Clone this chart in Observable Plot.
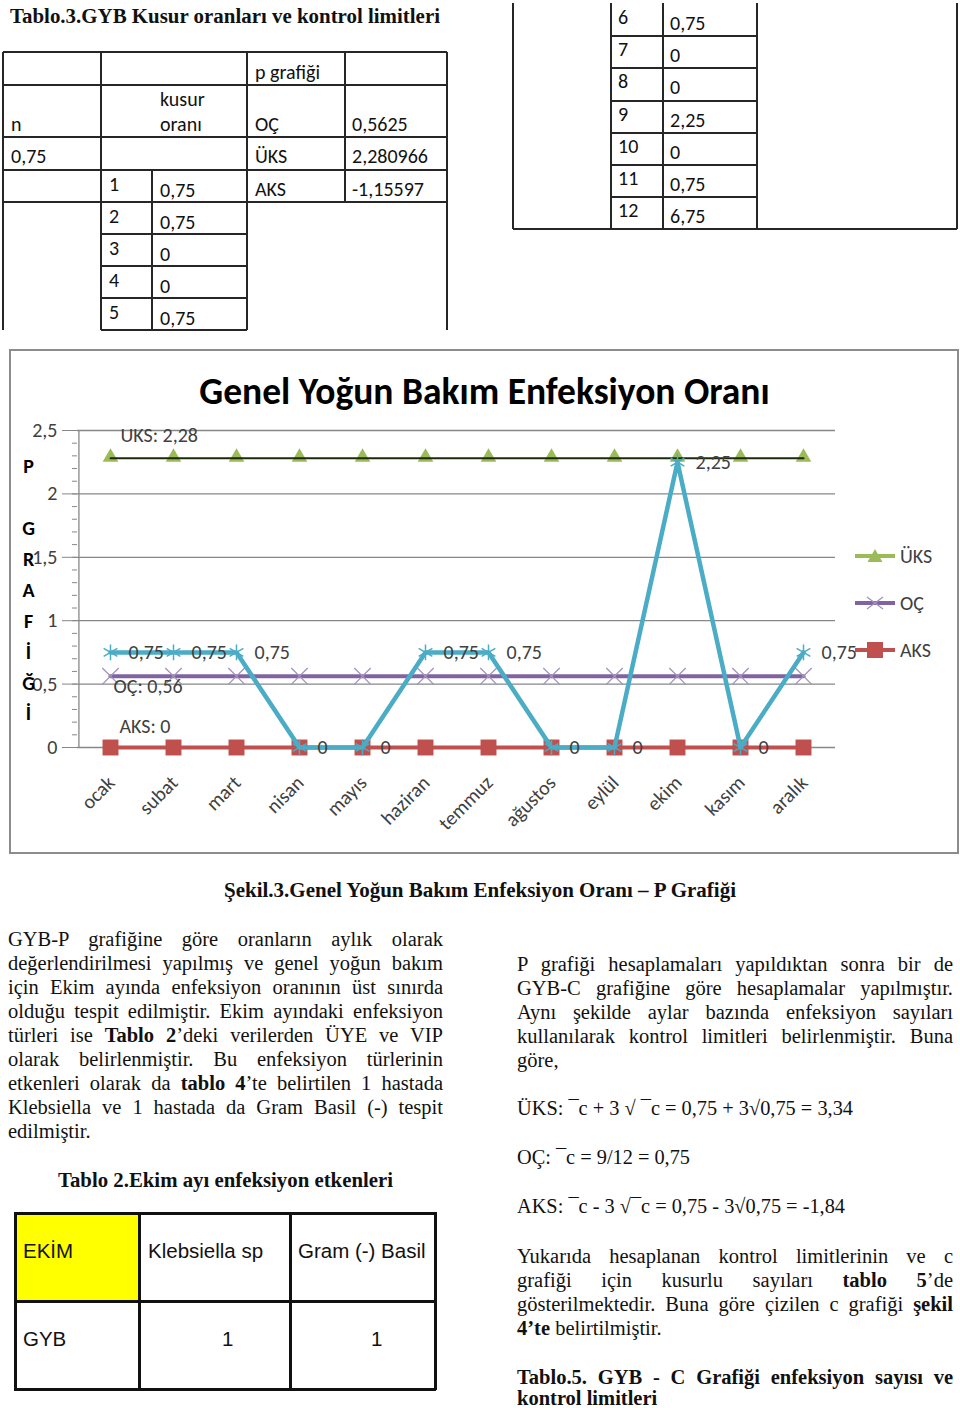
<!DOCTYPE html>
<html><head><meta charset="utf-8">
<script src="https://cdn.jsdelivr.net/npm/d3@7"></script>
<script src="https://cdn.jsdelivr.net/npm/@observablehq/plot@0.6"></script>
<style>
html,body{margin:0;padding:0;background:#fff;}
#page{position:relative;width:960px;height:1408px;overflow:hidden;background:#fff;}
.ln{position:absolute;}
.tt{position:absolute;font-family:Carlito,Calibri,Lato,sans-serif;font-size:20px;color:#111;white-space:nowrap;}
.sv{position:absolute;font-family:"Liberation Serif","Times New Roman",serif;font-size:20.5px;color:#111;white-space:nowrap;}
.ar{position:absolute;font-family:"Liberation Sans",Arial,sans-serif;font-size:20.5px;color:#111;white-space:nowrap;}
.lg{position:absolute;font-family:Carlito,Calibri,Lato,sans-serif;font-size:20px;color:#404040;white-space:nowrap;}
</style></head>
<body><div id="page"></div>
<script>
// ---------------- data ----------------
const months = ["ocak","subat","mart","nisan","mayıs","haziran","temmuz","ağustos","eylül","ekim","kasım","aralık"];
const kusurOrani = [0.75,0.75,0.75,0,0,0.75,0.75,0,0,2.25,0,0.75];
const uksSeries = [2.280966,2.280966,2.280966,2.280966,2.280966,2.280966,2.280966,2.280966,2.280966,2.280966,2.280966,2.280966];
const ocSeries = [0.5625,0.5625,0.5625,0.5625,0.5625,0.5625,0.5625,0.5625,0.5625,0.5625,0.5625,0.5625];
const aksSeries = [0,0,0,0,0,0,0,0,0,0,0,0];
const yTicks = [0,0.5,1,1.5,2,2.5];
const chartTitle = "Genel Yoğun Bakım Enfeksiyon Oranı";
const yLabel = "P\n \nG\nR\nA\nF\nİ\nĞ\nİ";
const legendNames = ["ÜKS","OÇ","AKS"];

const tabloN = ["1","2","3","4","5","6","7","8","9","10","11","12"];
const tabloKusur = ["0,75","0,75","0","0","0,75","0,75","0","0","2,25","0","0,75","6,75"];
const limitNames = ["OÇ","ÜKS","AKS"];
const limitValues = ["0,5625","2,280966","-1,15597"];
const nValue = "0,75";

// ---------------- helpers ----------------
const page = document.getElementById("page");
function el(cls, style, html){ const e=document.createElement("div"); e.className=cls; Object.assign(e.style, style); if(html!=null) e.innerHTML=html; page.appendChild(e); return e; }
const C = "#262626";
function hline(x1,x2,y,w=2,c=C){ el("ln",{left:x1+"px",top:(y-w/2)+"px",width:(x2-x1)+"px",height:w+"px",background:c}); }
function vline(x,y1,y2,w=2,c=C){ el("ln",{left:(x-w/2)+"px",top:y1+"px",width:w+"px",height:(y2-y1)+"px",background:c}); }
function txt(x,yc,html,cls="tt",lh=22){ return el(cls,{left:x+"px",top:(yc-lh/2)+"px",lineHeight:lh+"px",display:"inline-block"},html); }
function fitW(e,w){ const nat=e.getBoundingClientRect().width; e.style.transformOrigin="0 50%"; e.style.transform=`scaleX(${w/nat})`; }
function justify(e,w){ const nat=e.getBoundingClientRect().width; const n=(e.textContent.match(/ /g)||[]).length; if(n) e.style.wordSpacing=((w-nat)/n)+"px"; }

// ---------------- top title ----------------
fitW(txt(10,16,"<b>Tablo.3.GYB Kusur oranları ve kontrol limitleri</b>","sv",24),430);

// ---------------- table 3 (left part) ----------------
[52,85,137,170,202].forEach(y=>hline(3,447,y));
[234,266,298,330].forEach(y=>hline(101,247,y));
vline(3,52,330); vline(101,52,330); vline(152,170,330); vline(247,52,330); vline(345,52,202); vline(447,52,330);
txt(255,72,"p grafiği"); txt(160,99,"kusur"); txt(160,124,"oranı"); txt(11,124,"n"); txt(11,156,nValue);
limitNames.forEach((n,i)=>{ const y=[124,156,189][i]; txt(255,y,n); txt(352,y,limitValues[i]); });
for(let i=0;i<5;i++){ const top=170+i*32; txt(109,top+13.5,tabloN[i]); txt(160,top+19.5,tabloKusur[i]); }
// ---------------- table 3 (right part) ----------------
[513,611,663,757,957].forEach(x=>vline(x,3,229));
hline(513,957,229);
for(let k=1;k<7;k++) hline(611,757,4+k*32.2);
for(let i=5;i<12;i++){ const top=4+(i-5)*32.2; txt(618,top+13,tabloN[i]); txt(670,top+19,tabloKusur[i]); }

// ---------------- chart ----------------
const fmt = d => d3.format("~g")(d).replace(".", ",");
const fmt2 = d => d3.format(".2~f")(d).replace(".", ",");
const rows = months.map((m,i)=>({month:m, p:kusurOrani[i], uks:uksSeries[i], oc:ocSeries[i], aks:aksSeries[i]}));
const W=948, H=503, mL=67, mR=123, mT=80, mB=106;
const step=(W-mL-mR)/months.length;
const minorTicks = d3.range(0,26).map(i=>i/10);
const LF = 20;
const chart = Plot.plot({
  width:W, height:H, marginLeft:mL, marginRight:mR, marginTop:mT, marginBottom:mB,
  style:{fontFamily:"Carlito, Calibri, Lato, sans-serif", background:"transparent", overflow:"visible", color:"#404040"},
  x:{type:"point", domain:months, padding:0.5, axis:null},
  y:{domain:[0,2.5], axis:null},
  marks:[
    Plot.gridY(yTicks,{stroke:"#878787", strokeOpacity:1, strokeWidth:1.3}),
    Plot.axisY(minorTicks,{tickSize:5, tickFormat:()=>"", stroke:"#878787", label:null}),
    Plot.axisY(yTicks,{tickSize:15, tickPadding:5, tickFormat:fmt, stroke:"#878787", color:"#404040", fontSize:LF, label:null}),
    Plot.ruleX([months[0]],{dx:-step/2, y1:0, y2:2.5, stroke:"#878787", strokeWidth:1.3}),
    Plot.dot(rows,{x:"month", y:"uks", symbol:"triangle", r:5.8, dy:-1, fill:"#9BBB59"}),
    Plot.line(rows,{x:"month", y:"uks", stroke:"#1c2a0c", strokeWidth:2}),
    Plot.line(rows,{x:"month", y:"oc", stroke:"#8064A2", strokeWidth:4}),
    Plot.dot(rows,{x:"month", y:"oc", symbol:"times", r:7.5, stroke:"#A392BA", strokeWidth:1.3}),
    Plot.line(rows,{x:"month", y:"aks", stroke:"#C0504D", strokeWidth:4}),
    Plot.dot(rows,{x:"month", y:"aks", symbol:"square", r:9, fill:"#C0504D"}),
    Plot.line(rows,{x:"month", y:"p", stroke:"#4BACC6", strokeWidth:4.5, strokeLinejoin:"round"}),
    Plot.dot(rows,{x:"month", y:"p", symbol:"asterisk", r:7.5, stroke:"#4BACC6", strokeWidth:1.5}),
    Plot.text(rows,{x:"month", y:"p", text:d=>fmt(d.p), textAnchor:"start", dx:18, fontSize:LF, fill:"#404040"}),
    Plot.text([rows[0]],{x:"month", y:"uks", text:d=>"UKS: "+fmt2(d.uks), textAnchor:"start", dx:10, dy:-23, fontSize:LF, fill:"#404040"}),
    Plot.text([rows[0]],{x:"month", y:"oc", text:d=>"OÇ: "+fmt2(d.oc), textAnchor:"start", dx:3, dy:10, fontSize:LF, fill:"#404040"}),
    Plot.text([rows[0]],{x:"month", y:"aks", text:d=>"AKS: "+fmt2(d.aks), textAnchor:"start", dx:9, dy:-21, fontSize:LF, fill:"#404040"}),
    Plot.text(months,{x:d=>d, text:d=>d, frameAnchor:"bottom", lineAnchor:"middle", rotate:-45, textAnchor:"end", dx:1, dy:32, fontSize:LF, fill:"#404040"}),
    Plot.text([chartTitle],{frameAnchor:"top", lineAnchor:"middle", text:d=>d, dx:28, dy:-39, fontSize:37.5, fontWeight:"bold", fill:"#000"}),
    Plot.text([yLabel],{frameAnchor:"left", lineAnchor:"middle", text:d=>d, dx:-49, dy:-2, fontSize:20, fontWeight:"bold", lineHeight:1.545, textAnchor:"middle", fill:"#000"})
  ]
});
const holder = el("",{position:"absolute",left:"10px",top:"350px",width:W+"px",height:H+"px"});
holder.appendChild(chart);
el("",{position:"absolute",left:"9px",top:"349px",width:"950px",height:"505px",border:"2px solid #8c8c8c",boxSizing:"border-box",pointerEvents:"none"});

// legend
const legendStyle = [
  {c:"#9BBB59", m:'<polygon points="20,2 27.5,15 12.5,15" fill="#9BBB59"/>'},
  {c:"#8064A2", m:'<path d="M12,3L28,15M12,15L28,3" stroke="#A392BA" stroke-width="1.3"/>'},
  {c:"#C0504D", m:'<rect x="12" y="1" width="16" height="16" fill="#C0504D"/>'}
];
legendNames.forEach((n,i)=>{
  const y=[556,603,650][i];
  const s=legendStyle[i];
  el("",{position:"absolute",left:"855px",top:(y-9)+"px",width:"40px",height:"18px"},
    `<svg width="40" height="18"><line x1="0" x2="40" y1="9" y2="9" stroke="${s.c}" stroke-width="4"/>${s.m}</svg>`);
  txt(900,y,n,"lg",22);
});

// ---------------- caption ----------------
fitW(txt(224,890,"<b>Şekil.3.Genel Yoğun Bakım Enfeksiyon Oranı – P Grafiği</b>","sv",24),512);

// ---------------- left paragraph ----------------
const leftLines = [
  "GYB-P grafiğine göre oranların aylık olarak",
  "değerlendirilmesi yapılmış ve genel yoğun bakım",
  "için Ekim ayında enfeksiyon oranının üst sınırda",
  "olduğu tespit edilmiştir. Ekim ayındaki enfeksiyon",
  "türleri ise <b>Tablo 2</b>’deki verilerden ÜYE ve VIP",
  "olarak belirlenmiştir. Bu enfeksiyon türlerinin",
  "etkenleri olarak da <b>tablo 4</b>’te belirtilen 1 hastada",
  "Klebsiella ve 1 hastada da Gram Basil (-) tespit"
];
leftLines.forEach((l,i)=>justify(txt(8,939+i*24,l,"sv",24),435));
txt(8,1131,"edilmiştir.","sv",24);

fitW(txt(58,1180,"<b>Tablo 2.Ekim ayı enfeksiyon etkenleri</b>","sv",24),335);

// ---------------- table 2 ----------------
el("",{position:"absolute",left:"15px",top:"1213px",width:"124px",height:"88px",background:"#FFFF00"});
hline(14,436,1213,3,"#111"); hline(14,436,1301,3,"#111"); hline(14,436,1389,3,"#111");
vline(15,1212,1390,3,"#111"); vline(139,1212,1390,3,"#111"); vline(290,1212,1390,3,"#111"); vline(435,1212,1390,3,"#111");
const t2Head = ["EKİM","Klebsiella sp","Gram (-) Basil"];
const t2Row = ["GYB","1","1"];
[23,148,298].forEach((x,i)=>txt(x,1251,t2Head[i],"ar",24));
txt(23,1339,t2Row[0],"ar",24); txt(222,1339,t2Row[1],"ar",24); txt(371,1339,t2Row[2],"ar",24);

// ---------------- right column ----------------
const rightLines = [
  "P grafiği hesaplamaları yapıldıktan sonra bir de",
  "GYB-C grafiğine göre hesaplamalar yapılmıştır.",
  "Aynı şekilde aylar bazında enfeksiyon sayıları",
  "kullanılarak kontrol limitleri belirlenmiştir. Buna"
];
rightLines.forEach((l,i)=>justify(txt(517,964+i*24,l,"sv",24),436));
txt(517,1060,"göre,","sv",24);
fitW(txt(517,1108,"ÜKS: ¯c + 3 √ ¯c = 0,75 + 3√0,75 = 3,34","sv",24),336);
fitW(txt(517,1157,"OÇ: ¯c = 9/12 = 0,75","sv",24),173);
fitW(txt(517,1206,"AKS: ¯c - 3 √¯c = 0,75 - 3√0,75 = -1,84","sv",24),328);
const right2 = [
  "Yukarıda hesaplanan kontrol limitlerinin ve c",
  "grafiği için kusurlu sayıları <b>tablo 5</b>’de",
  "gösterilmektedir. Buna göre çizilen c grafiği <b>şekil</b>"
];
right2.forEach((l,i)=>justify(txt(517,1256+i*24,l,"sv",24),436));
txt(517,1328,"<b>4’te</b> belirtilmiştir.","sv",24);
justify(txt(517,1377,"<b>Tablo.5. GYB - C Grafiği enfeksiyon sayısı ve</b>","sv",18),436);
txt(517,1398,"<b>kontrol limitleri</b>","sv",18);
</script>
</body></html>
